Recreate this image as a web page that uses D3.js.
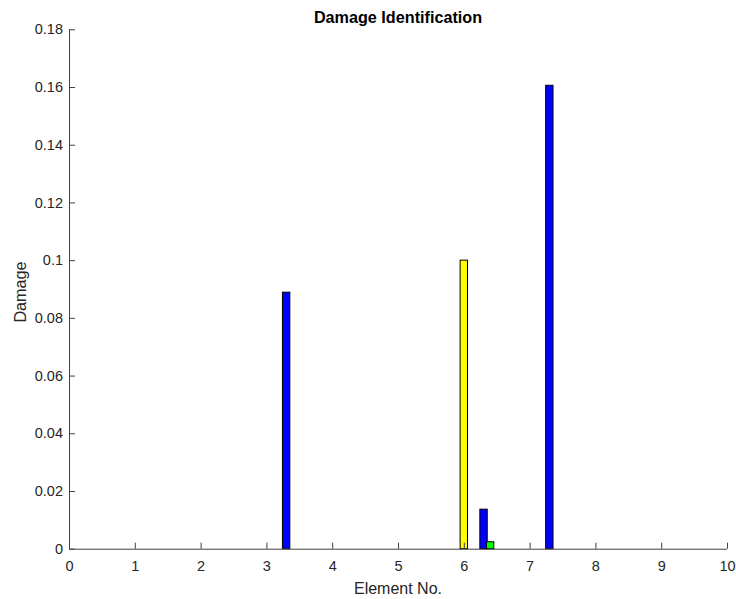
<!DOCTYPE html>
<html><head><meta charset="utf-8">
<script src="https://cdn.jsdelivr.net/npm/d3@7"></script>
<style>body{margin:0;background:#fff;} text{font-family:"Liberation Sans",Arial,sans-serif;}</style>
</head><body>
<svg id="c" width="736" height="599"></svg>
<script>
const positions = [3.3, 6.0, 6.3, 6.4, 7.3];
const damages = [0.0889, 0.1000, 0.0137, 0.0024, 0.1606];
const colors = ["#0000ff", "#ffff00", "#0000ff", "#00ff00", "#0000ff"];
const xTicks = [0,1,2,3,4,5,6,7,8,9,10];
const yTicks = [0,0.02,0.04,0.06,0.08,0.1,0.12,0.14,0.16,0.18];
const barWidth = 0.112;

const svg = d3.select("#c");
const L = 69, R = 727, T = 29.3, B = 548.7;
const x = d3.scaleLinear().domain([0,10]).range([L,R]);
const y = d3.scaleLinear().domain([0,0.18]).range([B,T]);

svg.selectAll("rect.bar").data(positions).enter().append("rect")
  .attr("x", (d)=>x(d-barWidth/2))
  .attr("width", (d)=>x(d+barWidth/2)-x(d-barWidth/2))
  .attr("y", (d,i)=>y(damages[i]))
  .attr("height", (d,i)=>B-y(damages[i]))
  .attr("fill", (d,i)=>colors[i])
  .attr("stroke", "#000").attr("stroke-width", 1);

const xAxis = d3.axisBottom(x).tickValues(xTicks).tickSize(-6).tickPadding(12).tickFormat(d3.format("d"));
const gx = svg.append("g").attr("transform", `translate(0,${B})`).call(xAxis);
const yAxis = d3.axisLeft(y).tickValues(yTicks).tickSize(-6).tickPadding(6).tickFormat(d=> d===0 ? "0" : String(+d.toFixed(2)));
const gy = svg.append("g").attr("transform", `translate(${L},0)`).call(yAxis);
[gx, gy].forEach(g=>{
  g.select(".domain").attr("stroke","#404040").attr("stroke-width",1);
  g.selectAll(".tick line").attr("stroke","#404040");
  g.selectAll(".tick text").attr("fill","#262626").style("font-size","14.5px").style("font-family","'Liberation Sans',Arial,sans-serif");
});
gx.select(".domain").attr("d", `M${L},0.5H${R}`);
gy.select(".domain").attr("d", `M0.5,${B}V${T}`);

svg.append("text").attr("x", 398).attr("y", 23).attr("text-anchor","middle")
  .style("font-size","16.2px").style("font-weight","bold").attr("fill","#000").text("Damage Identification");
svg.append("text").attr("x", 398).attr("y", 594).attr("text-anchor","middle")
  .style("font-size","16px").attr("fill","#262626").text("Element No.");
svg.append("text").attr("transform", `translate(25.5,292) rotate(-90)`).attr("text-anchor","middle")
  .style("font-size","16.2px").attr("fill","#262626").text("Damage");
</script>
</body></html>
